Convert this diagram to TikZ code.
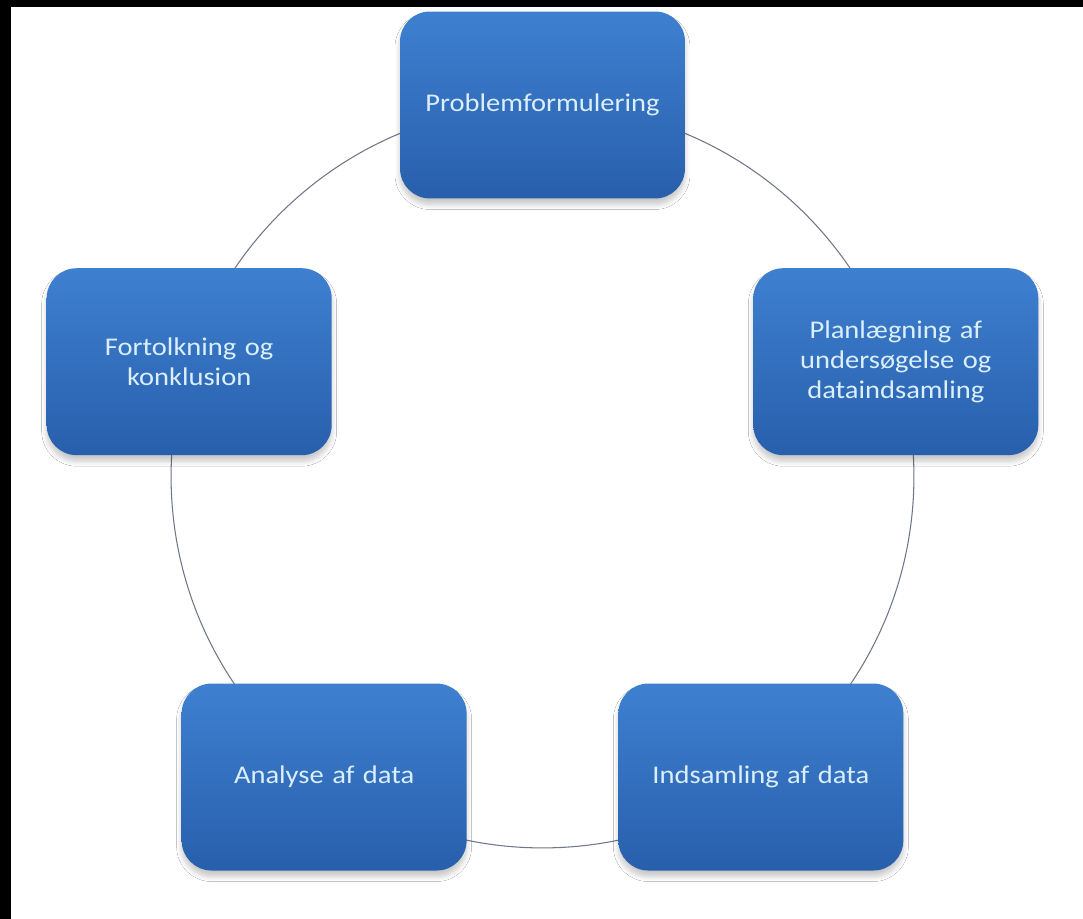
\documentclass[tikz,border=0pt]{standalone}
\usepackage{fontspec}
\newfontfamily\boxfont[FakeStretch=1.12, WordSpace=0.55]{Carlito}
\usetikzlibrary{calc, shadows.blur}
\definecolor{BoxTop}{RGB}{62,128,208}
\definecolor{BoxBottom}{RGB}{40,95,172}
\definecolor{BoxText}{RGB}{218,238,252}
\definecolor{RingGrey}{RGB}{110,118,135}
\newcommand{\Height}{3.74cm}
\newcommand{\Width}{5.7cm}
\newcommand{\Ring}{371.5}
\tikzset{BlueSquare/.style={
    inner sep=0pt,
    text width=5cm,
    minimum width=\Width,
    minimum height=\Height,
    rounded corners=0.6cm,
    top color=BoxTop,
    bottom color=BoxBottom,
    blur shadow={shadow xshift=0pt, shadow yshift=-0.12cm,
        shadow blur radius=0.1cm, shadow blur steps=8, shadow opacity=22},
    text=BoxText,
    font=\boxfont\fontsize{14.5}{17}\selectfont,
    align=center
    }
}
\tikzset{RingLine/.style={
    draw=RingGrey,
    line width=0.6pt
    }
}

\begin{document}
\begin{tikzpicture}[x=0.02cm, y=0.02cm]
    \useasboundingbox (0,0) rectangle (1083,919);
    \fill[white] (0,0) rectangle (1083,919);
    \fill[black] (0,912) rectangle (1083,919);
    \fill[black] (0,0) rectangle (11,919);

    \coordinate (c) at (542.5,442.5);
    \draw[RingLine] (c) circle [radius=7.43cm];

    \node (prob) [BlueSquare] at ($(c)+(90:\Ring)$) {Problemformulering};

    \node (plan) [BlueSquare] at ($(c)+(18:\Ring)$)
    {Planlægning af\\ undersøgelse og\\ dataindsamling};

    \node (inds) [BlueSquare] at ($(c)+(-54:\Ring)$) {Indsamling af data};

    \node (anal) [BlueSquare] at ($(c)+(234:\Ring)$) {Analyse af data};

    \node (fort) [BlueSquare] at ($(c)+(162:\Ring)$)
    {Fortolkning og\\ konklusion};

\end{tikzpicture}
\end{document}
